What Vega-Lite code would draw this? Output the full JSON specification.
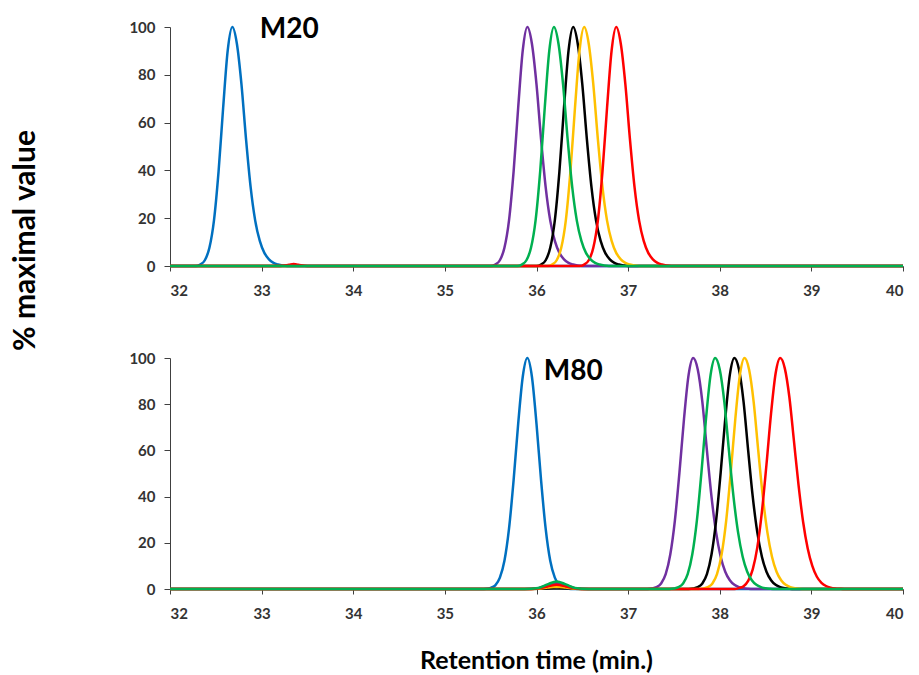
{
  "$schema": "https://vega.github.io/schema/vega-lite/v6.json",
  "background": "white",
  "padding": {"left": 9, "top": 16, "right": 5, "bottom": 5},
  "bounds": "flush",
  "spacing": 92,
  "config": {
    "view": {"stroke": null},
    "axis": {
      "grid": false,
      "domainColor": "#404040",
      "tickColor": "#404040",
      "labelFont": "Lato",
      "labelFontWeight": "bold",
      "labelFontSize": 15,
      "labelColor": "#333333",
      "titleFont": "Lato",
      "titleFontWeight": "bold",
      "titleColor": "#000000"
    },
    "axisX": {"tickSize": 5, "labelPadding": 12},
    "axisY": {"tickSize": 6, "labelPadding": 9}
  },
  "datasets": {
    "m20": [
      {"run": "r1 blue", "t": 32, "pct": 0},
      {"run": "r1 blue", "t": 32.28, "pct": 0},
      {"run": "r1 blue", "t": 32.33, "pct": 0.6},
      {"run": "r1 blue", "t": 32.38, "pct": 2.4},
      {"run": "r1 blue", "t": 32.43, "pct": 7.6},
      {"run": "r1 blue", "t": 32.48, "pct": 19.1},
      {"run": "r1 blue", "t": 32.53, "pct": 39.5},
      {"run": "r1 blue", "t": 32.58, "pct": 66.2},
      {"run": "r1 blue", "t": 32.63, "pct": 90.2},
      {"run": "r1 blue", "t": 32.68, "pct": 100},
      {"run": "r1 blue", "t": 32.73, "pct": 93},
      {"run": "r1 blue", "t": 32.78, "pct": 76},
      {"run": "r1 blue", "t": 32.83, "pct": 53},
      {"run": "r1 blue", "t": 32.88, "pct": 33},
      {"run": "r1 blue", "t": 32.93, "pct": 19},
      {"run": "r1 blue", "t": 32.98, "pct": 10.5},
      {"run": "r1 blue", "t": 33.03, "pct": 5.5},
      {"run": "r1 blue", "t": 33.08, "pct": 2.8},
      {"run": "r1 blue", "t": 33.13, "pct": 1.3},
      {"run": "r1 blue", "t": 33.18, "pct": 0.6},
      {"run": "r1 blue", "t": 33.23, "pct": 0.2},
      {"run": "r1 blue", "t": 33.28, "pct": 0},
      {"run": "r1 blue", "t": 40, "pct": 0},

      {"run": "r2 purple", "t": 32, "pct": 0},
      {"run": "r2 purple", "t": 35.5, "pct": 0},
      {"run": "r2 purple", "t": 35.55, "pct": 0.6},
      {"run": "r2 purple", "t": 35.6, "pct": 2.4},
      {"run": "r2 purple", "t": 35.65, "pct": 7.6},
      {"run": "r2 purple", "t": 35.7, "pct": 19.1},
      {"run": "r2 purple", "t": 35.75, "pct": 39.5},
      {"run": "r2 purple", "t": 35.8, "pct": 66.2},
      {"run": "r2 purple", "t": 35.85, "pct": 90.2},
      {"run": "r2 purple", "t": 35.9, "pct": 100},
      {"run": "r2 purple", "t": 35.95, "pct": 93},
      {"run": "r2 purple", "t": 36.0, "pct": 76},
      {"run": "r2 purple", "t": 36.05, "pct": 53},
      {"run": "r2 purple", "t": 36.1, "pct": 33},
      {"run": "r2 purple", "t": 36.15, "pct": 19},
      {"run": "r2 purple", "t": 36.2, "pct": 10.5},
      {"run": "r2 purple", "t": 36.25, "pct": 5.5},
      {"run": "r2 purple", "t": 36.3, "pct": 2.8},
      {"run": "r2 purple", "t": 36.35, "pct": 1.3},
      {"run": "r2 purple", "t": 36.4, "pct": 0.6},
      {"run": "r2 purple", "t": 36.45, "pct": 0.2},
      {"run": "r2 purple", "t": 36.5, "pct": 0},
      {"run": "r2 purple", "t": 40, "pct": 0},

      {"run": "r3 black", "t": 32, "pct": 0},
      {"run": "r3 black", "t": 36.0, "pct": 0},
      {"run": "r3 black", "t": 36.05, "pct": 0.6},
      {"run": "r3 black", "t": 36.1, "pct": 2.4},
      {"run": "r3 black", "t": 36.15, "pct": 7.6},
      {"run": "r3 black", "t": 36.2, "pct": 19.1},
      {"run": "r3 black", "t": 36.25, "pct": 39.5},
      {"run": "r3 black", "t": 36.3, "pct": 66.2},
      {"run": "r3 black", "t": 36.35, "pct": 90.2},
      {"run": "r3 black", "t": 36.4, "pct": 100},
      {"run": "r3 black", "t": 36.45, "pct": 93},
      {"run": "r3 black", "t": 36.5, "pct": 76},
      {"run": "r3 black", "t": 36.55, "pct": 53},
      {"run": "r3 black", "t": 36.6, "pct": 33},
      {"run": "r3 black", "t": 36.65, "pct": 19},
      {"run": "r3 black", "t": 36.7, "pct": 10.5},
      {"run": "r3 black", "t": 36.75, "pct": 5.5},
      {"run": "r3 black", "t": 36.8, "pct": 2.8},
      {"run": "r3 black", "t": 36.85, "pct": 1.3},
      {"run": "r3 black", "t": 36.9, "pct": 0.6},
      {"run": "r3 black", "t": 36.95, "pct": 0.2},
      {"run": "r3 black", "t": 37.0, "pct": 0},
      {"run": "r3 black", "t": 40, "pct": 0},

      {"run": "r4 orange", "t": 32, "pct": 0},
      {"run": "r4 orange", "t": 36.12, "pct": 0},
      {"run": "r4 orange", "t": 36.17, "pct": 0.6},
      {"run": "r4 orange", "t": 36.22, "pct": 2.4},
      {"run": "r4 orange", "t": 36.27, "pct": 7.6},
      {"run": "r4 orange", "t": 36.32, "pct": 19.1},
      {"run": "r4 orange", "t": 36.37, "pct": 39.5},
      {"run": "r4 orange", "t": 36.42, "pct": 66.2},
      {"run": "r4 orange", "t": 36.47, "pct": 90.2},
      {"run": "r4 orange", "t": 36.52, "pct": 100},
      {"run": "r4 orange", "t": 36.57, "pct": 93},
      {"run": "r4 orange", "t": 36.62, "pct": 76},
      {"run": "r4 orange", "t": 36.67, "pct": 53},
      {"run": "r4 orange", "t": 36.72, "pct": 33},
      {"run": "r4 orange", "t": 36.77, "pct": 19},
      {"run": "r4 orange", "t": 36.82, "pct": 10.5},
      {"run": "r4 orange", "t": 36.87, "pct": 5.5},
      {"run": "r4 orange", "t": 36.92, "pct": 2.8},
      {"run": "r4 orange", "t": 36.97, "pct": 1.3},
      {"run": "r4 orange", "t": 37.02, "pct": 0.6},
      {"run": "r4 orange", "t": 37.07, "pct": 0.2},
      {"run": "r4 orange", "t": 37.12, "pct": 0},
      {"run": "r4 orange", "t": 40, "pct": 0},

      {"run": "r5 red", "t": 32, "pct": 0},
      {"run": "r5 red", "t": 33.2, "pct": 0},
      {"run": "r5 red", "t": 33.3, "pct": 0.5},
      {"run": "r5 red", "t": 33.35, "pct": 0.8},
      {"run": "r5 red", "t": 33.4, "pct": 0.5},
      {"run": "r5 red", "t": 33.5, "pct": 0},
      {"run": "r5 red", "t": 36.47, "pct": 0},
      {"run": "r5 red", "t": 36.52, "pct": 0.6},
      {"run": "r5 red", "t": 36.57, "pct": 2.4},
      {"run": "r5 red", "t": 36.62, "pct": 7.6},
      {"run": "r5 red", "t": 36.67, "pct": 19.1},
      {"run": "r5 red", "t": 36.72, "pct": 39.5},
      {"run": "r5 red", "t": 36.77, "pct": 66.2},
      {"run": "r5 red", "t": 36.82, "pct": 90.2},
      {"run": "r5 red", "t": 36.87, "pct": 100},
      {"run": "r5 red", "t": 36.92, "pct": 93},
      {"run": "r5 red", "t": 36.97, "pct": 76},
      {"run": "r5 red", "t": 37.02, "pct": 53},
      {"run": "r5 red", "t": 37.07, "pct": 33},
      {"run": "r5 red", "t": 37.12, "pct": 19},
      {"run": "r5 red", "t": 37.17, "pct": 10.5},
      {"run": "r5 red", "t": 37.22, "pct": 5.5},
      {"run": "r5 red", "t": 37.27, "pct": 2.8},
      {"run": "r5 red", "t": 37.32, "pct": 1.3},
      {"run": "r5 red", "t": 37.37, "pct": 0.6},
      {"run": "r5 red", "t": 37.42, "pct": 0.2},
      {"run": "r5 red", "t": 37.47, "pct": 0},
      {"run": "r5 red", "t": 40, "pct": 0},

      {"run": "r6 green", "t": 32, "pct": 0},
      {"run": "r6 green", "t": 35.79, "pct": 0},
      {"run": "r6 green", "t": 35.84, "pct": 0.6},
      {"run": "r6 green", "t": 35.89, "pct": 2.4},
      {"run": "r6 green", "t": 35.94, "pct": 7.6},
      {"run": "r6 green", "t": 35.99, "pct": 19.1},
      {"run": "r6 green", "t": 36.04, "pct": 39.5},
      {"run": "r6 green", "t": 36.09, "pct": 66.2},
      {"run": "r6 green", "t": 36.14, "pct": 90.2},
      {"run": "r6 green", "t": 36.19, "pct": 100},
      {"run": "r6 green", "t": 36.24, "pct": 93},
      {"run": "r6 green", "t": 36.29, "pct": 76},
      {"run": "r6 green", "t": 36.34, "pct": 53},
      {"run": "r6 green", "t": 36.39, "pct": 33},
      {"run": "r6 green", "t": 36.44, "pct": 19},
      {"run": "r6 green", "t": 36.49, "pct": 10.5},
      {"run": "r6 green", "t": 36.54, "pct": 5.5},
      {"run": "r6 green", "t": 36.59, "pct": 2.8},
      {"run": "r6 green", "t": 36.64, "pct": 1.3},
      {"run": "r6 green", "t": 36.69, "pct": 0.6},
      {"run": "r6 green", "t": 36.74, "pct": 0.2},
      {"run": "r6 green", "t": 36.79, "pct": 0},
      {"run": "r6 green", "t": 40, "pct": 0}
    ],
    "m80": [
      {"run": "r1 blue", "t": 32, "pct": 0},
      {"run": "r1 blue", "t": 35.4, "pct": 0},
      {"run": "r1 blue", "t": 35.45, "pct": 0.1},
      {"run": "r1 blue", "t": 35.5, "pct": 0.5},
      {"run": "r1 blue", "t": 35.55, "pct": 1.6},
      {"run": "r1 blue", "t": 35.6, "pct": 4.9},
      {"run": "r1 blue", "t": 35.65, "pct": 12.2},
      {"run": "r1 blue", "t": 35.7, "pct": 26.1},
      {"run": "r1 blue", "t": 35.75, "pct": 47},
      {"run": "r1 blue", "t": 35.8, "pct": 71.5},
      {"run": "r1 blue", "t": 35.85, "pct": 91.9},
      {"run": "r1 blue", "t": 35.9, "pct": 100},
      {"run": "r1 blue", "t": 35.95, "pct": 91.9},
      {"run": "r1 blue", "t": 36.0, "pct": 71.5},
      {"run": "r1 blue", "t": 36.05, "pct": 47},
      {"run": "r1 blue", "t": 36.1, "pct": 26.1},
      {"run": "r1 blue", "t": 36.15, "pct": 12.2},
      {"run": "r1 blue", "t": 36.2, "pct": 4.9},
      {"run": "r1 blue", "t": 36.25, "pct": 1.6},
      {"run": "r1 blue", "t": 36.3, "pct": 0.5},
      {"run": "r1 blue", "t": 36.35, "pct": 0.1},
      {"run": "r1 blue", "t": 36.4, "pct": 0},
      {"run": "r1 blue", "t": 40, "pct": 0},

      {"run": "r2 purple", "t": 32, "pct": 0},
      {"run": "r2 purple", "t": 35.87, "pct": 0},
      {"run": "r2 purple", "t": 36.02, "pct": 0.35},
      {"run": "r2 purple", "t": 36.12, "pct": 1.6},
      {"run": "r2 purple", "t": 36.22, "pct": 2.6},
      {"run": "r2 purple", "t": 36.32, "pct": 1.6},
      {"run": "r2 purple", "t": 36.42, "pct": 0.35},
      {"run": "r2 purple", "t": 36.57, "pct": 0},
      {"run": "r2 purple", "t": 37.21, "pct": 0},
      {"run": "r2 purple", "t": 37.26, "pct": 0.2},
      {"run": "r2 purple", "t": 37.31, "pct": 0.8},
      {"run": "r2 purple", "t": 37.36, "pct": 2.4},
      {"run": "r2 purple", "t": 37.41, "pct": 6.4},
      {"run": "r2 purple", "t": 37.46, "pct": 14.9},
      {"run": "r2 purple", "t": 37.51, "pct": 29.5},
      {"run": "r2 purple", "t": 37.56, "pct": 50.4},
      {"run": "r2 purple", "t": 37.61, "pct": 73.7},
      {"run": "r2 purple", "t": 37.66, "pct": 92.7},
      {"run": "r2 purple", "t": 37.71, "pct": 100},
      {"run": "r2 purple", "t": 37.76, "pct": 95},
      {"run": "r2 purple", "t": 37.81, "pct": 81},
      {"run": "r2 purple", "t": 37.86, "pct": 60},
      {"run": "r2 purple", "t": 37.91, "pct": 40},
      {"run": "r2 purple", "t": 37.96, "pct": 24.5},
      {"run": "r2 purple", "t": 38.01, "pct": 14},
      {"run": "r2 purple", "t": 38.06, "pct": 7.5},
      {"run": "r2 purple", "t": 38.11, "pct": 3.8},
      {"run": "r2 purple", "t": 38.16, "pct": 1.8},
      {"run": "r2 purple", "t": 38.21, "pct": 0.8},
      {"run": "r2 purple", "t": 38.26, "pct": 0.3},
      {"run": "r2 purple", "t": 38.31, "pct": 0.1},
      {"run": "r2 purple", "t": 38.36, "pct": 0},
      {"run": "r2 purple", "t": 40, "pct": 0},

      {"run": "r3 black", "t": 32, "pct": 0},
      {"run": "r3 black", "t": 35.87, "pct": 0},
      {"run": "r3 black", "t": 36.02, "pct": 0.08},
      {"run": "r3 black", "t": 36.12, "pct": 0.37},
      {"run": "r3 black", "t": 36.22, "pct": 0.6},
      {"run": "r3 black", "t": 36.32, "pct": 0.37},
      {"run": "r3 black", "t": 36.42, "pct": 0.08},
      {"run": "r3 black", "t": 36.57, "pct": 0},
      {"run": "r3 black", "t": 37.66, "pct": 0},
      {"run": "r3 black", "t": 37.71, "pct": 0.2},
      {"run": "r3 black", "t": 37.76, "pct": 0.8},
      {"run": "r3 black", "t": 37.81, "pct": 2.4},
      {"run": "r3 black", "t": 37.86, "pct": 6.4},
      {"run": "r3 black", "t": 37.91, "pct": 14.9},
      {"run": "r3 black", "t": 37.96, "pct": 29.5},
      {"run": "r3 black", "t": 38.01, "pct": 50.4},
      {"run": "r3 black", "t": 38.06, "pct": 73.7},
      {"run": "r3 black", "t": 38.11, "pct": 92.7},
      {"run": "r3 black", "t": 38.16, "pct": 100},
      {"run": "r3 black", "t": 38.21, "pct": 95},
      {"run": "r3 black", "t": 38.26, "pct": 81},
      {"run": "r3 black", "t": 38.31, "pct": 60},
      {"run": "r3 black", "t": 38.36, "pct": 40},
      {"run": "r3 black", "t": 38.41, "pct": 24.5},
      {"run": "r3 black", "t": 38.46, "pct": 14},
      {"run": "r3 black", "t": 38.51, "pct": 7.5},
      {"run": "r3 black", "t": 38.56, "pct": 3.8},
      {"run": "r3 black", "t": 38.61, "pct": 1.8},
      {"run": "r3 black", "t": 38.66, "pct": 0.8},
      {"run": "r3 black", "t": 38.71, "pct": 0.3},
      {"run": "r3 black", "t": 38.76, "pct": 0.1},
      {"run": "r3 black", "t": 38.81, "pct": 0},
      {"run": "r3 black", "t": 40, "pct": 0},

      {"run": "r4 orange", "t": 32, "pct": 0},
      {"run": "r4 orange", "t": 35.87, "pct": 0},
      {"run": "r4 orange", "t": 36.02, "pct": 0.14},
      {"run": "r4 orange", "t": 36.12, "pct": 0.6},
      {"run": "r4 orange", "t": 36.22, "pct": 1.0},
      {"run": "r4 orange", "t": 36.32, "pct": 0.6},
      {"run": "r4 orange", "t": 36.42, "pct": 0.14},
      {"run": "r4 orange", "t": 36.57, "pct": 0},
      {"run": "r4 orange", "t": 37.77, "pct": 0},
      {"run": "r4 orange", "t": 37.82, "pct": 0.2},
      {"run": "r4 orange", "t": 37.87, "pct": 0.8},
      {"run": "r4 orange", "t": 37.92, "pct": 2.4},
      {"run": "r4 orange", "t": 37.97, "pct": 6.4},
      {"run": "r4 orange", "t": 38.02, "pct": 14.9},
      {"run": "r4 orange", "t": 38.07, "pct": 29.5},
      {"run": "r4 orange", "t": 38.12, "pct": 50.4},
      {"run": "r4 orange", "t": 38.17, "pct": 73.7},
      {"run": "r4 orange", "t": 38.22, "pct": 92.7},
      {"run": "r4 orange", "t": 38.27, "pct": 100},
      {"run": "r4 orange", "t": 38.32, "pct": 95},
      {"run": "r4 orange", "t": 38.37, "pct": 81},
      {"run": "r4 orange", "t": 38.42, "pct": 60},
      {"run": "r4 orange", "t": 38.47, "pct": 40},
      {"run": "r4 orange", "t": 38.52, "pct": 24.5},
      {"run": "r4 orange", "t": 38.57, "pct": 14},
      {"run": "r4 orange", "t": 38.62, "pct": 7.5},
      {"run": "r4 orange", "t": 38.67, "pct": 3.8},
      {"run": "r4 orange", "t": 38.72, "pct": 1.8},
      {"run": "r4 orange", "t": 38.77, "pct": 0.8},
      {"run": "r4 orange", "t": 38.82, "pct": 0.3},
      {"run": "r4 orange", "t": 38.87, "pct": 0.1},
      {"run": "r4 orange", "t": 38.92, "pct": 0},
      {"run": "r4 orange", "t": 40, "pct": 0},

      {"run": "r5 red", "t": 32, "pct": 0},
      {"run": "r5 red", "t": 35.87, "pct": 0},
      {"run": "r5 red", "t": 36.02, "pct": 0.24},
      {"run": "r5 red", "t": 36.12, "pct": 1.1},
      {"run": "r5 red", "t": 36.22, "pct": 1.8},
      {"run": "r5 red", "t": 36.32, "pct": 1.1},
      {"run": "r5 red", "t": 36.42, "pct": 0.24},
      {"run": "r5 red", "t": 36.57, "pct": 0},
      {"run": "r5 red", "t": 38.16, "pct": 0},
      {"run": "r5 red", "t": 38.21, "pct": 0.4},
      {"run": "r5 red", "t": 38.26, "pct": 1.2},
      {"run": "r5 red", "t": 38.31, "pct": 3.5},
      {"run": "r5 red", "t": 38.36, "pct": 8.5},
      {"run": "r5 red", "t": 38.41, "pct": 18},
      {"run": "r5 red", "t": 38.46, "pct": 33.4},
      {"run": "r5 red", "t": 38.51, "pct": 53.9},
      {"run": "r5 red", "t": 38.56, "pct": 76},
      {"run": "r5 red", "t": 38.61, "pct": 93.4},
      {"run": "r5 red", "t": 38.66, "pct": 100},
      {"run": "r5 red", "t": 38.71, "pct": 95.5},
      {"run": "r5 red", "t": 38.76, "pct": 83},
      {"run": "r5 red", "t": 38.81, "pct": 64},
      {"run": "r5 red", "t": 38.86, "pct": 45},
      {"run": "r5 red", "t": 38.91, "pct": 29},
      {"run": "r5 red", "t": 38.96, "pct": 17.5},
      {"run": "r5 red", "t": 39.01, "pct": 10},
      {"run": "r5 red", "t": 39.06, "pct": 5.3},
      {"run": "r5 red", "t": 39.11, "pct": 2.7},
      {"run": "r5 red", "t": 39.16, "pct": 1.3},
      {"run": "r5 red", "t": 39.21, "pct": 0.6},
      {"run": "r5 red", "t": 39.26, "pct": 0.25},
      {"run": "r5 red", "t": 39.31, "pct": 0.1},
      {"run": "r5 red", "t": 39.36, "pct": 0},
      {"run": "r5 red", "t": 40, "pct": 0},

      {"run": "r6 green", "t": 32, "pct": 0},
      {"run": "r6 green", "t": 35.87, "pct": 0},
      {"run": "r6 green", "t": 36.02, "pct": 0.45},
      {"run": "r6 green", "t": 36.12, "pct": 2.0},
      {"run": "r6 green", "t": 36.22, "pct": 3.3},
      {"run": "r6 green", "t": 36.32, "pct": 2.0},
      {"run": "r6 green", "t": 36.42, "pct": 0.45},
      {"run": "r6 green", "t": 36.57, "pct": 0},
      {"run": "r6 green", "t": 37.45, "pct": 0},
      {"run": "r6 green", "t": 37.5, "pct": 0.2},
      {"run": "r6 green", "t": 37.55, "pct": 0.8},
      {"run": "r6 green", "t": 37.6, "pct": 2.4},
      {"run": "r6 green", "t": 37.65, "pct": 6.4},
      {"run": "r6 green", "t": 37.7, "pct": 14.9},
      {"run": "r6 green", "t": 37.75, "pct": 29.5},
      {"run": "r6 green", "t": 37.8, "pct": 50.4},
      {"run": "r6 green", "t": 37.85, "pct": 73.7},
      {"run": "r6 green", "t": 37.9, "pct": 92.7},
      {"run": "r6 green", "t": 37.95, "pct": 100},
      {"run": "r6 green", "t": 38.0, "pct": 95},
      {"run": "r6 green", "t": 38.05, "pct": 81},
      {"run": "r6 green", "t": 38.1, "pct": 60},
      {"run": "r6 green", "t": 38.15, "pct": 40},
      {"run": "r6 green", "t": 38.2, "pct": 24.5},
      {"run": "r6 green", "t": 38.25, "pct": 14},
      {"run": "r6 green", "t": 38.3, "pct": 7.5},
      {"run": "r6 green", "t": 38.35, "pct": 3.8},
      {"run": "r6 green", "t": 38.4, "pct": 1.8},
      {"run": "r6 green", "t": 38.45, "pct": 0.8},
      {"run": "r6 green", "t": 38.5, "pct": 0.3},
      {"run": "r6 green", "t": 38.55, "pct": 0.1},
      {"run": "r6 green", "t": 38.6, "pct": 0},
      {"run": "r6 green", "t": 40, "pct": 0}
    ]
  },
  "vconcat": [
    {
      "width": 733,
      "height": 239,
      "layer": [
        {
          "data": {"name": "m20"},
          "mark": {"type": "line", "strokeWidth": 2.5, "interpolate": "monotone"},
          "encoding": {
            "x": {
              "field": "t",
              "type": "quantitative",
              "scale": {"domain": [32, 40], "nice": false},
              "axis": {"values": [32, 33, 34, 35, 36, 37, 38, 39, 40], "format": "d", "title": null}
            },
            "y": {
              "field": "pct",
              "type": "quantitative",
              "scale": {"domain": [0, 100], "nice": false},
              "axis": {
                "values": [0, 20, 40, 60, 80, 100],
                "title": "% maximal value",
                "titleFontSize": 30,
                "titleAngle": -90,
                "titleX": -145,
                "titleY": 213,
                "titleAlign": "center",
                "titleBaseline": "middle"
              }
            },
            "color": {
              "field": "run",
              "type": "nominal",
              "scale": {
                "domain": ["r1 blue", "r2 purple", "r3 black", "r4 orange", "r5 red", "r6 green"],
                "range": ["#0070C0", "#7030A0", "#000000", "#FFC000", "#FF0000", "#00B050"]
              },
              "legend": null
            }
          }
        },
        {
          "data": {"values": [{"t": 32.98, "pct": 98.7, "label": "M20"}]},
          "mark": {"type": "text", "align": "left", "baseline": "middle", "font": "Lato", "fontSize": 28, "fontWeight": "bold", "color": "#000000"},
          "encoding": {
            "x": {"field": "t", "type": "quantitative"},
            "y": {"field": "pct", "type": "quantitative"},
            "text": {"field": "label"}
          }
        }
      ]
    },
    {
      "width": 733,
      "height": 231,
      "layer": [
        {
          "data": {"name": "m80"},
          "mark": {"type": "line", "strokeWidth": 2.5, "interpolate": "monotone"},
          "encoding": {
            "x": {
              "field": "t",
              "type": "quantitative",
              "scale": {"domain": [32, 40], "nice": false},
              "axis": {
                "values": [32, 33, 34, 35, 36, 37, 38, 39, 40],
                "format": "d",
                "title": "Retention time (min.)",
                "titleFontSize": 25,
                "titleX": 366,
                "titleY": 71,
                "titleAlign": "center",
                "titleBaseline": "middle"
              }
            },
            "y": {
              "field": "pct",
              "type": "quantitative",
              "scale": {"domain": [0, 100], "nice": false},
              "axis": {"values": [0, 20, 40, 60, 80, 100], "title": null}
            },
            "color": {
              "field": "run",
              "type": "nominal",
              "scale": {
                "domain": ["r1 blue", "r2 purple", "r3 black", "r4 orange", "r5 red", "r6 green"],
                "range": ["#0070C0", "#7030A0", "#000000", "#FFC000", "#FF0000", "#00B050"]
              },
              "legend": null
            }
          }
        },
        {
          "data": {"values": [{"t": 36.08, "pct": 94, "label": "M80"}]},
          "mark": {"type": "text", "align": "left", "baseline": "middle", "font": "Lato", "fontSize": 28, "fontWeight": "bold", "color": "#000000"},
          "encoding": {
            "x": {"field": "t", "type": "quantitative"},
            "y": {"field": "pct", "type": "quantitative"},
            "text": {"field": "label"}
          }
        }
      ]
    }
  ]
}
